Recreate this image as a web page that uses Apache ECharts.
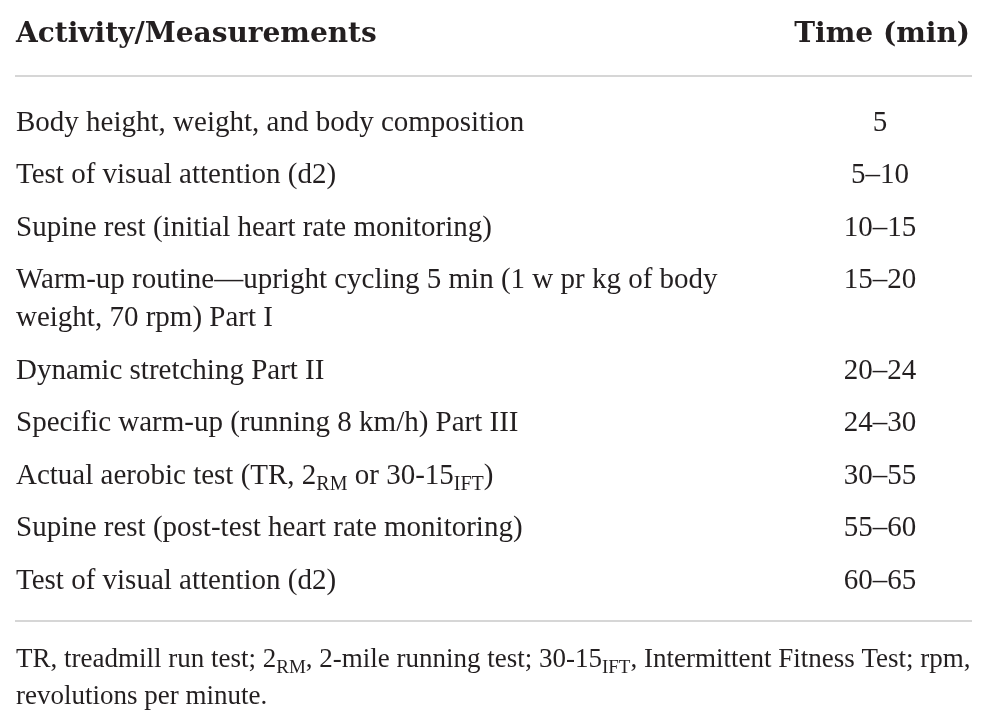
<!DOCTYPE html>
<html><head><meta charset="utf-8">
<script src="https://cdn.jsdelivr.net/npm/echarts@6/dist/echarts.min.js"></script>
<style>html,body{margin:0;padding:0;background:#fff}#c{width:988px;height:725px}</style>
</head><body><div id="c"></div>
<script>
// ---- data ----
const headers = ['Activity/Measurements', 'Time (min)'];
const activities = [
  'Body height, weight, and body composition',
  'Test of visual attention (d2)',
  'Supine rest (initial heart rate monitoring)',
  'Warm-up routine\u2014upright cycling 5 min (1 w pr kg of body\nweight, 70 rpm) Part I',
  'Dynamic stretching Part II',
  'Specific warm-up (running 8 km/h) Part III',
  'Actual aerobic test (TR, 2{sub|RM} or 30-15{sub|IFT})',
  'Supine rest (post-test heart rate monitoring)',
  'Test of visual attention (d2)'
];
const times = ['5', '5\u201310', '10\u201315', '15\u201320', '20\u201324', '24\u201330', '30\u201355', '55\u201360', '60\u201365'];
const footnotes = [
  'TR, treadmill run test; 2{sub|RM}, 2-mile running test; 30-15{sub|IFT}, Intermittent Fitness Test; rpm,',
  'revolutions per minute.'
];

// ---- layout (row units: 1 = one table row) ----
const FONT = '"Liberation Serif", "DejaVu Serif", serif';
const HFONT = '"DejaVu Serif", "Liberation Serif", serif';
const LH = 38, COLOR = '#231f20';
const ROW = 52.5;                  // px per row unit
const EXTRA_LINE = LH / ROW;       // extra height per wrapped line
const HEADER_Y = -88 / ROW, RULE1_Y = -45 / ROW;
const X_ACT = 1, X_TIME = 865, X_HEAD_R = 955;

const rowY = [];
let acc = 0;
activities.forEach((a, i) => {
  rowY.push(acc);
  acc += 1 + (a.split('\n').length - 1) * EXTRA_LINE;
});
const lastY = rowY[rowY.length - 1];
const RULE2_Y = lastY + 42 / ROW;
const FOOT_Y = [RULE2_Y + 37 / ROW, RULE2_Y + 74 / ROW];

function lbl(align, font, fs, bold, subFs, subPad) {
  return {
    show: true, position: [0, 0], align: align, verticalAlign: 'top', offset: [0, -LH / 2 + 2],
    formatter: p => p.data.t, fontFamily: font, fontSize: fs, lineHeight: LH,
    fontWeight: bold ? 'bold' : 'normal', color: COLOR,
    rich: { sub: { fontFamily: font, fontSize: subFs || 19, color: COLOR, padding: [subPad || 16, 0, 0, 0] } }
  };
}
function textSeries(name, data, label) {
  return { name, type: 'scatter', symbolSize: 0, silent: true, itemStyle: { opacity: 1 }, data, label };
}

const chart = echarts.init(document.getElementById('c'), null, { renderer: 'canvas' });
chart.setOption({
  backgroundColor: '#fff',
  animation: false,
  grid: { left: 15, right: 16, top: 0, bottom: 0 },
  xAxis: { type: 'value', min: 0, max: 957, show: false },
  yAxis: { type: 'value', inverse: true, min: -121 / ROW, max: (725 - 121) / ROW, show: false },
  series: [
    Object.assign(textSeries('headL', [{ value: [X_ACT, HEADER_Y], t: headers[0] }], lbl('left', HFONT, 28, true)), {
      markLine: {
        silent: true, symbol: 'none', label: { show: false },
        lineStyle: { color: '#c9c9c9', width: 1.5, type: 'solid' },
        data: [{ yAxis: RULE1_Y }, { yAxis: RULE2_Y }]
      }
    }),
    textSeries('headR', [{ value: [X_HEAD_R, HEADER_Y], t: headers[1] }], lbl('right', HFONT, 28, true)),
    textSeries('activity', activities.map((a, i) => ({ value: [X_ACT, rowY[i]], t: a })), lbl('left', FONT, 29, false, 20, 17)),
    textSeries('time', times.map((t, i) => ({ value: [X_TIME, rowY[i]], t: t })), lbl('center', FONT, 29, false)),
    textSeries('foot', footnotes.map((f, i) => ({ value: [X_ACT, FOOT_Y[i]], t: f })), lbl('left', FONT, 27, false, 19, 16))
  ]
});
</script></body></html>
